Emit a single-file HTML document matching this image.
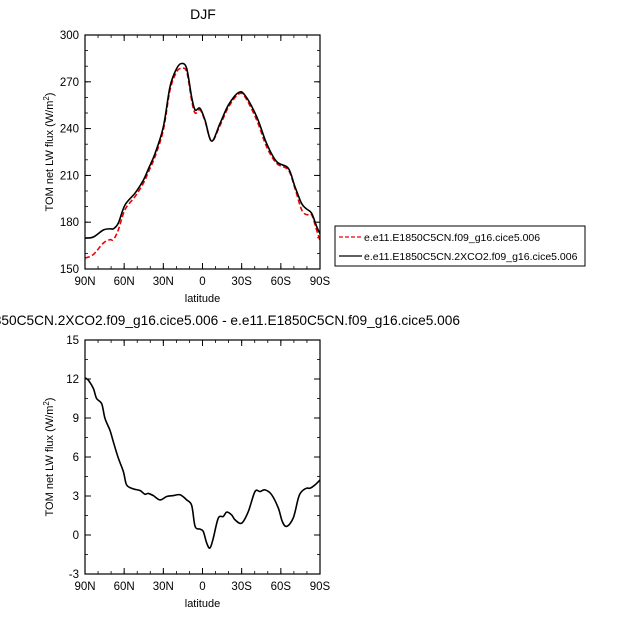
<!DOCTYPE html>
<html><head><meta charset="utf-8"><style>
body{margin:0;background:#fff}
svg{display:block;font-family:"Liberation Sans",sans-serif}
</style></head><body>
<svg id="c" width="621" height="621" viewBox="0 0 621 621">
<text x="203" y="19" font-size="14" text-anchor="middle">DJF</text>
<text x="200" y="325" font-size="13.7" text-anchor="middle">e.e11.E1850C5CN.2XCO2.f09_g16.cice5.006 - e.e11.E1850C5CN.f09_g16.cice5.006</text>
<g>
<rect x="335" y="226" width="250" height="40" fill="#fff" stroke="#000" stroke-width="1"/>
<line x1="339" y1="237" x2="362" y2="237" stroke="#e00" stroke-width="1.3" stroke-dasharray="4,2"/>
<text x="364" y="241" font-size="10.5">e.e11.E1850C5CN.f09_g16.cice5.006</text>
<line x1="339" y1="256" x2="362" y2="256" stroke="#000" stroke-width="1.3"/>
<text x="364" y="260" font-size="10.5">e.e11.E1850C5CN.2XCO2.f09_g16.cice5.006</text>
</g>
</svg>
<script>
const latTicks=[90,60,30,0,-30,-60,-90];
const latLabels=["90N","60N","30N","0","30S","60S","90S"];
const topTicks=[150,180,210,240,270,300];
const botTicks=[-3,0,3,6,9,12,15];
const topLat=[90,83.6,76,70.9,68.3,64.5,59.4,51.7,45.3,41.0,36.4,30,24.9,19.8,16.0,12.1,8.3,5.7,1.9,-1.9,-7.0,-13.4,-19.8,-27.4,-32.5,-41.5,-49.1,-56.8,-65.7,-70.8,-75.9,-79.8,-83.6,-87.4,-90];
const blackVals=[169.8,170.5,175,175.8,175.8,179.4,191,198.6,207,215,224,241,266.8,278.5,281.7,278.5,260,252,253,245.5,232,243.3,255,263,261.4,247.6,230.5,218.8,214.6,202.8,192,188.4,185.8,177.3,172.6];
const redVals=[157,159.3,166.6,168.8,168.8,175,188,196.4,205,213,222,239,264.6,276.4,278.5,276.4,258,250,252,245,232,242,253.6,262,260.4,245.5,228.4,217.7,213.5,201.8,188,184.8,184.8,175,168.3];
const diffLat=[90,87.4,83.6,81.1,77.2,74.7,70.9,68.3,64.4,60.6,58.1,53,47.9,44.1,41.5,37.7,32.5,27.4,22.3,17.2,12.1,8.3,5.7,1.9,-0.6,-3.2,-5.7,-8.3,-12.1,-15.9,-18.5,-22.3,-24.9,-30,-35.1,-40.2,-44.1,-47.9,-53,-58.1,-61.1,-64.4,-69.5,-73.4,-75.9,-79.7,-82.3,-86.2,-90];
const diffVals=[12.09,11.9,11.27,10.5,10.1,8.97,8.07,7.18,5.9,4.87,3.85,3.55,3.42,3.14,3.2,3.03,2.7,2.96,3.03,3.09,2.7,2.27,0.66,0.45,0.27,-0.62,-1.0,-0.24,1.3,1.42,1.76,1.55,1.17,0.91,1.8,3.34,3.34,3.47,3.09,2.06,1.04,0.66,1.3,2.83,3.34,3.6,3.6,3.85,4.23];
const NS="http://www.w3.org/2000/svg";
const svg=document.getElementById('c');
const X0=85,X1=320;
function xs(lat){return X0+(90-lat)/180*(X1-X0);}
function el(t,a,p){const e=document.createElementNS(NS,t);for(const k in a)e.setAttribute(k,a[k]);(p||svg).appendChild(e);return e;}
function smooth(P){
  let d='M'+P[0][0].toFixed(1)+','+P[0][1].toFixed(1);
  for(let i=0;i<P.length-1;i++){
    const p0=P[Math.max(0,i-1)],p1=P[i],p2=P[i+1],p3=P[Math.min(P.length-1,i+2)];
    const c1=[p1[0]+(p2[0]-p0[0])/6,p1[1]+(p2[1]-p0[1])/6];
    const c2=[p2[0]-(p3[0]-p1[0])/6,p2[1]-(p3[1]-p1[1])/6];
    d+=` C${c1[0].toFixed(1)},${c1[1].toFixed(1)} ${c2[0].toFixed(1)},${c2[1].toFixed(1)} ${p2[0].toFixed(1)},${p2[1].toFixed(1)}`;
  }
  return d;
}
function panel(name,top,bot,ymin,ymax,yt,minorStep,series){
  const ys=v=>bot-(v-ymin)/(ymax-ymin)*(bot-top);
  const g=el('g',{});
  
  
  for(let v=ymin;v<=ymax+1e-9;v+=minorStep){const y=ys(v);
    el('line',{x1:X0,x2:X0+3,y1:y,y2:y,stroke:'#000','stroke-width':0.8},g);
    el('line',{x1:X1,x2:X1-3,y1:y,y2:y,stroke:'#000','stroke-width':0.8},g);}
  yt.forEach(v=>{const y=ys(v);
    el('line',{x1:X0,x2:X0+6,y1:y,y2:y,stroke:'#000','stroke-width':1},g);
    el('line',{x1:X1,x2:X1-6,y1:y,y2:y,stroke:'#000','stroke-width':1},g);
    const t=el('text',{x:X0-6,y:y+4,'font-size':11.5,'text-anchor':'end'},g);t.textContent=v;
    
    });
  for(let l=90;l>=-90;l-=10){const x=xs(l);
    el('line',{x1:x,x2:x,y1:bot,y2:bot-3,stroke:'#000','stroke-width':0.8},g);
    el('line',{x1:x,x2:x,y1:top,y2:top+3,stroke:'#000','stroke-width':0.8},g);}
  latTicks.forEach((l,i)=>{const x=xs(l);
    el('line',{x1:x,x2:x,y1:bot,y2:bot-6,stroke:'#000','stroke-width':1},g);
    el('line',{x1:x,x2:x,y1:top,y2:top+6,stroke:'#000','stroke-width':1},g);
    const t=el('text',{x:x,y:bot+16,'font-size':11.5,'text-anchor':'middle'},g);t.textContent=latLabels[i];
    
    });
  const xl=el('text',{x:(X0+X1)/2,y:bot+33,'font-size':11,'text-anchor':'middle'},g);xl.textContent='latitude';
  
  
  const cy=(top+bot)/2;
  const yl=el('text',{x:0,y:0,'font-size':11,'text-anchor':'middle',transform:`translate(53,${cy}) rotate(-90)`},g);
  yl.innerHTML='TOM net LW flux (W/m<tspan dy="-4" font-size="8">2</tspan><tspan dy="4">)</tspan>';
  
  
  series.forEach(s=>{
    const P=s.lat.map((l,i)=>[xs(l),ys(s.v[i])]);
    const p=el('path',{d:smooth(P),fill:'none',stroke:s.c,'stroke-width':1.6,'stroke-linejoin':'round'},g);
    if(s.d)p.setAttribute('stroke-dasharray',s.d);
    
    
  });
  el('rect',{x:X0,y:top,width:X1-X0,height:bot-top,fill:'none',stroke:'#000','stroke-width':1.2},g);
}
panel('top-panel',35,269,150,300,topTicks,10,[
 {lat:topLat,v:redVals,c:'#e00',d:'5,2.5',n:'control-line'},
 {lat:topLat,v:blackVals,c:'#000',n:'2xco2-line'}]);
panel('bottom-panel',340,574,-3,15,botTicks,1.5,[
 {lat:diffLat,v:diffVals,c:'#000',n:'difference-line'}]);
</script>
</body></html>
